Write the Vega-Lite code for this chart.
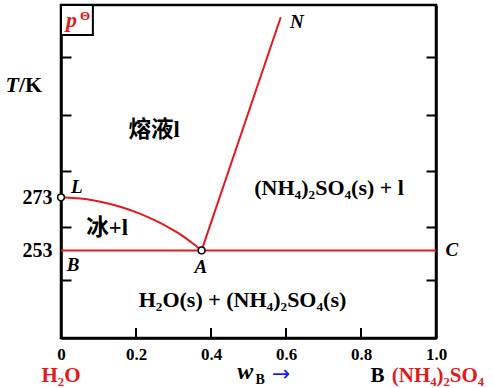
{
  "$schema": "https://vega.github.io/schema/vega-lite/v6.json",
  "width": 375,
  "height": 333,
  "autosize": {"type": "none"},
  "padding": {"left": 61, "top": 5, "right": 58, "bottom": 50},
  "background": "white",
  "config": {
    "view": {"stroke": "black", "strokeWidth": 2.5},
    "axis": {
      "grid": false,
      "domainColor": "black",
      "domainWidth": 2.5,
      "tickColor": "black",
      "tickWidth": 2,
      "labelFont": "Liberation Serif",
      "labelFontWeight": "bold",
      "labelColor": "black",
      "title": null
    }
  },
  "datasets": {
    "lines": [
      {"seg": "LA", "o": 1, "w": 0.0, "T": 273.0},
      {"seg": "LA", "o": 2, "w": 0.073, "T": 272.2},
      {"seg": "LA", "o": 3, "w": 0.12, "T": 270.9},
      {"seg": "LA", "o": 4, "w": 0.162, "T": 269.3},
      {"seg": "LA", "o": 5, "w": 0.21, "T": 266.9},
      {"seg": "LA", "o": 6, "w": 0.251, "T": 264.3},
      {"seg": "LA", "o": 7, "w": 0.29, "T": 261.4},
      {"seg": "LA", "o": 8, "w": 0.322, "T": 258.7},
      {"seg": "LA", "o": 9, "w": 0.35, "T": 255.8},
      {"seg": "LA", "o": 10, "w": 0.375, "T": 253.0},
      {"seg": "AN", "o": 1, "w": 0.375, "T": 253.0},
      {"seg": "AN", "o": 2, "w": 0.586, "T": 340.9},
      {"seg": "BC", "o": 1, "w": 0.0, "T": 253.0},
      {"seg": "BC", "o": 2, "w": 1.0, "T": 253.0}
    ],
    "xticks": [{"w": 0.2}, {"w": 0.4}, {"w": 0.6}, {"w": 0.8}],
    "pts": [
      {"name": "L", "w": 0.0, "T": 273.0},
      {"name": "A", "w": 0.375, "T": 253.0}
    ],
    "box": [{"w1": 0.0, "w2": 0.085, "T1": 334.2, "T2": 345.5}],
    "letters": [
      {"t": "L", "w": 0.042, "T": 277.0},
      {"t": "B", "w": 0.032, "T": 247.5},
      {"t": "A", "w": 0.373, "T": 246.9},
      {"t": "C", "w": 1.042, "T": 253.2},
      {"t": "N", "w": 0.629, "T": 339.2}
    ],
    "chem": [
      {"t": "(NH₄)₂SO₄(s) + l", "w": 0.715, "T": 276.5},
      {"t": "H₂O(s) + (NH₄)₂SO₄(s)", "w": 0.484, "T": 234.3}
    ],
    "cjk": [
      {"t": "熔液l", "w": 0.248, "T": 298.4},
      {"t": "冰+l", "w": 0.123, "T": 261.5}
    ],
    "redBottom": [
      {"t": "H₂O", "w": 0.0, "T": 203.4}
    ],
    "redLeft": [
      {"t": "(NH₄)₂SO₄", "w": 0.882, "T": 203.4}
    ],
    "blackBottom": [
      {"t": "B", "w": 0.844, "T": 203.4}
    ],
    "wItalic": [{"t": "w", "w": 0.491, "T": 204.55}],
    "wSub": [{"t": "B", "w": 0.531, "T": 202.7}],
    "arrow": [{"t": "→", "w": 0.587, "T": 206.4}],
    "tItalic": [{"t": "T", "w": -0.112, "T": 312.8}],
    "tRest": [{"t": "/K", "w": -0.112, "T": 312.8}],
    "pItalic": [{"t": "p", "w": 0.028, "T": 337.2}],
    "pSup": [{"t": "Θ", "w": 0.064, "T": 339.8}]
  },
  "layer": [
    {
      "data": {"name": "lines"},
      "mark": {"type": "line", "color": "#e3191c", "strokeWidth": 2, "interpolate": "monotone"},
      "encoding": {
        "x": {"field": "w", "type": "quantitative",
              "scale": {"domain": [0, 1], "nice": false, "zero": false},
              "axis": {"orient": "bottom", "values": [0, 0.2, 0.4, 0.6, 0.8, 1.0], "ticks": false,
                       "labelPadding": 8, "labelFlush": false, "labelFontSize": 17,
                       "labelExpr": "datum.value == 0 ? '0' : format(datum.value, '.1f')"}},
        "y": {"field": "T", "type": "quantitative",
              "scale": {"domain": [220, 345.5], "nice": false, "zero": false},
              "axis": {"values": [242, 253, 262, 273, 283, 304, 326], "tickSize": -10, "labelPadding": 19,
                       "labelFontSize": 20,
                       "tickOpacity": {"condition": {"test": "datum.value == 253 || datum.value == 273", "value": 0}, "value": 1},
                       "labelExpr": "(datum.value == 253 || datum.value == 273) ? datum.label : ''"}},
        "detail": {"field": "seg"},
        "order": {"field": "o"}
      }
    },
    {
      "data": {"name": "xticks"},
      "mark": {"type": "rule", "color": "black", "strokeWidth": 2},
      "encoding": {
        "x": {"field": "w", "type": "quantitative", "axis": null},
        "y": {"datum": 220, "type": "quantitative", "axis": null},
        "y2": {"datum": 223.8}
      }
    },
    {
      "data": {"name": "pts"},
      "mark": {"type": "point", "filled": true, "fill": "white", "stroke": "black", "strokeWidth": 1.5, "size": 45, "opacity": 1},
      "encoding": {
        "x": {"field": "w", "type": "quantitative", "axis": null},
        "y": {"field": "T", "type": "quantitative",
              "axis": {"orient": "right", "values": [242, 262, 283, 304, 326], "tickSize": -10, "labels": false}}
      }
    },
    {
      "data": {"name": "box"},
      "mark": {"type": "rect", "fill": "white", "stroke": "black", "strokeWidth": 2},
      "encoding": {
        "x": {"field": "w1", "type": "quantitative", "axis": null},
        "x2": {"field": "w2"},
        "y": {"field": "T1", "type": "quantitative", "axis": null},
        "y2": {"field": "T2"}
      }
    },
    {
      "data": {"name": "letters"},
      "mark": {"type": "text", "font": "Liberation Serif", "fontStyle": "italic", "fontWeight": "bold", "fontSize": 19, "baseline": "middle", "align": "center", "color": "black"},
      "encoding": {
        "x": {"field": "w", "type": "quantitative", "axis": null},
        "y": {"field": "T", "type": "quantitative", "axis": null},
        "text": {"field": "t"}
      }
    },
    {
      "data": {"name": "chem"},
      "mark": {"type": "text", "font": "Liberation Serif", "fontWeight": "bold", "fontSize": 22, "baseline": "middle", "align": "center", "color": "black"},
      "encoding": {
        "x": {"field": "w", "type": "quantitative", "axis": null},
        "y": {"field": "T", "type": "quantitative", "axis": null},
        "text": {"field": "t"}
      }
    },
    {
      "data": {"name": "cjk"},
      "mark": {"type": "text", "font": "Liberation Serif, Noto Sans CJK SC", "fontWeight": "bold", "fontSize": 22.5, "baseline": "middle", "align": "center", "color": "black"},
      "encoding": {
        "x": {"field": "w", "type": "quantitative", "axis": null},
        "y": {"field": "T", "type": "quantitative", "axis": null},
        "text": {"field": "t"}
      }
    },
    {
      "data": {"name": "redBottom"},
      "mark": {"type": "text", "font": "Liberation Serif", "fontWeight": "bold", "fontSize": 21, "baseline": "alphabetic", "align": "center", "color": "#e3191c"},
      "encoding": {
        "x": {"field": "w", "type": "quantitative", "axis": null},
        "y": {"field": "T", "type": "quantitative", "axis": null},
        "text": {"field": "t"}
      }
    },
    {
      "data": {"name": "redLeft"},
      "mark": {"type": "text", "font": "Liberation Serif", "fontWeight": "bold", "fontSize": 21, "baseline": "alphabetic", "align": "left", "color": "#e3191c"},
      "encoding": {
        "x": {"field": "w", "type": "quantitative", "axis": null},
        "y": {"field": "T", "type": "quantitative", "axis": null},
        "text": {"field": "t"}
      }
    },
    {
      "data": {"name": "blackBottom"},
      "mark": {"type": "text", "font": "Liberation Serif", "fontWeight": "bold", "fontSize": 21, "baseline": "alphabetic", "align": "center", "color": "black"},
      "encoding": {
        "x": {"field": "w", "type": "quantitative", "axis": null},
        "y": {"field": "T", "type": "quantitative", "axis": null},
        "text": {"field": "t"}
      }
    },
    {
      "data": {"name": "wItalic"},
      "mark": {"type": "text", "font": "Liberation Serif", "fontStyle": "italic", "fontWeight": "bold", "fontSize": 24, "baseline": "alphabetic", "align": "center", "color": "black"},
      "encoding": {
        "x": {"field": "w", "type": "quantitative", "axis": null},
        "y": {"field": "T", "type": "quantitative", "axis": null},
        "text": {"field": "t"}
      }
    },
    {
      "data": {"name": "wSub"},
      "mark": {"type": "text", "font": "Liberation Serif", "fontWeight": "bold", "fontSize": 14, "baseline": "alphabetic", "align": "center", "color": "black"},
      "encoding": {
        "x": {"field": "w", "type": "quantitative", "axis": null},
        "y": {"field": "T", "type": "quantitative", "axis": null},
        "text": {"field": "t"}
      }
    },
    {
      "data": {"name": "arrow"},
      "mark": {"type": "text", "font": "DejaVu Sans", "fontSize": 22, "baseline": "middle", "align": "center", "color": "#1a1aff"},
      "encoding": {
        "x": {"field": "w", "type": "quantitative", "axis": null},
        "y": {"field": "T", "type": "quantitative", "axis": null},
        "text": {"field": "t"}
      }
    },
    {
      "data": {"name": "tItalic"},
      "mark": {"type": "text", "font": "Liberation Serif", "fontStyle": "italic", "fontWeight": "bold", "fontSize": 22, "baseline": "alphabetic", "align": "right", "color": "black"},
      "encoding": {
        "x": {"field": "w", "type": "quantitative", "axis": null},
        "y": {"field": "T", "type": "quantitative", "axis": null},
        "text": {"field": "t"}
      }
    },
    {
      "data": {"name": "tRest"},
      "mark": {"type": "text", "font": "Liberation Serif", "fontWeight": "bold", "fontSize": 22, "baseline": "alphabetic", "align": "left", "color": "black"},
      "encoding": {
        "x": {"field": "w", "type": "quantitative", "axis": null},
        "y": {"field": "T", "type": "quantitative", "axis": null},
        "text": {"field": "t"}
      }
    },
    {
      "data": {"name": "pItalic"},
      "mark": {"type": "text", "font": "Liberation Serif", "fontStyle": "italic", "fontWeight": "bold", "fontSize": 22, "baseline": "alphabetic", "align": "center", "color": "#e3191c"},
      "encoding": {
        "x": {"field": "w", "type": "quantitative", "axis": null},
        "y": {"field": "T", "type": "quantitative", "axis": null},
        "text": {"field": "t"}
      }
    },
    {
      "data": {"name": "pSup"},
      "mark": {"type": "text", "font": "Liberation Serif", "fontWeight": "bold", "fontSize": 13, "baseline": "alphabetic", "align": "center", "color": "#e3191c"},
      "encoding": {
        "x": {"field": "w", "type": "quantitative", "axis": null},
        "y": {"field": "T", "type": "quantitative", "axis": null},
        "text": {"field": "t"}
      }
    }
  ],
  "resolve": {"axis": {"x": "independent", "y": "independent"}}
}
